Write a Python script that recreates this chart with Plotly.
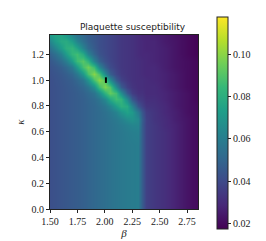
import plotly.graph_objects as go

beta = [1.50, 1.55, 1.60, 1.65, 1.70, 1.75, 1.80, 1.85, 1.90, 1.95, 2.00, 2.05,
        2.10, 2.15, 2.20, 2.25, 2.30, 2.34, 2.38, 2.45, 2.55, 2.65, 2.75, 2.85]
kappa = [0.0, 0.1, 0.2, 0.3, 0.4, 0.5, 0.6, 0.65, 0.7, 0.75, 0.8, 0.85, 0.9, 0.95,
         1.0, 1.05, 1.1, 1.15, 1.2, 1.25, 1.3, 1.35]

row_low = [.042, .043, .044, .045, .046, .047, .048, .0495, .051, .0525, .054, .0555, .057, .058, .059, .0595, .060, .047, .037, .034, .031, .027, .023, .020]
row_060 = [.042, .043, .044, .045, .046, .047, .048, .0495, .051, .0525, .054, .0555, .057, .058, .0596, .0607, .0614, .047, .037, .034, .031, .027, .023, .020]
row_065 = [.042, .043, .044, .045, .046, .047, .048, .0495, .051, .0525, .054, .0555, .0573, .059, .0614, .0634, .0634, .047, .037, .034, .030, .027, .023, .020]
row_070 = [.042, .043, .044, .045, .046, .047, .048, .0495, .051, .0525, .054, .0561, .0585, .0618, .0664, .0686, .0649, .048, .037, .033, .030, .026, .023, .020]
row_075 = [.042, .043, .044, .045, .046, .047, .048, .0495, .051, .0525, .0548, .0578, .0625, .0694, .0749, .0716, .0587, .045, .036, .033, .029, .026, .022, .020]
row_080 = [.042, .043, .044, .045, .046, .047, .048, .0495, .051, .0535, .0573, .0635, .0731, .0808, .0782, .0626, .0443, .038, .033, .032, .029, .025, .022, .020]
row_085 = [.042, .043, .044, .045, .046, .047, .048, .050, .0523, .0567, .0651, .0777, .0867, .0832, .065, .0454, .0355, .034, .031, .031, .028, .025, .022, .019]
row_090 = [.042, .043, .044, .045, .046, .0472, .0489, .0515, .056, .0661, .0825, .0936, .087, .0666, .0462, .0362, .032, .032, .030, .030, .028, .025, .022, .019]
row_095 = [.042, .043, .044, .0452, .0465, .0482, .051, .0565, .0671, .0858, .0982, .0908, .0661, .0466, .037, .0331, .031, .031, .030, .030, .027, .024, .021, .019]
row_100 = [.042, .0433, .0446, .0459, .0477, .0509, .0569, .0694, .0881, .100, .091, .0668, .0469, .0378, .0339, .032, .031, .031, .030, .029, .027, .024, .021, .019]
row_105 = [.0426, .0439, .0455, .0477, .051, .0581, .071, .0885, .100, .0892, .0659, .0479, .0391, .035, .033, .032, .031, .030, .029, .029, .027, .024, .021, .019]
row_110 = [.0434, .0453, .0478, .0515, .0588, .0719, .0879, .096, .0857, .0642, .0487, .0407, .0368, .034, .033, .032, .031, .030, .029, .029, .026, .023, .021, .019]
row_115 = [.0452, .0483, .053, .0606, .0726, .0862, .0913, .0822, .0623, .0492, .0424, .0387, .036, .034, .033, .032, .031, .030, .029, .028, .026, .023, .021, .019]
row_120 = [.049, .0541, .0619, .0725, .0834, .0869, .0783, .0623, .0504, .0438, .0404, .038, .036, .034, .033, .032, .030, .029, .029, .028, .026, .023, .020, .018]
row_125 = [.0556, .0632, .0723, .0801, .0828, .0752, .0626, .052, .0464, .0422, .040, .038, .036, .034, .033, .032, .030, .029, .028, .028, .026, .023, .020, .018]
row_130 = [.0642, .0723, .0777, .0787, .0727, .0624, .0542, .0484, .045, .042, .040, .038, .036, .034, .033, .032, .030, .029, .028, .028, .025, .023, .020, .018]
row_135 = [.0718, .0758, .0757, .0714, .0631, .0557, .0512, .047, .045, .042, .040, .038, .036, .034, .033, .032, .030, .028, .028, .027, .025, .022, .020, .018]

chi = [row_low, row_low, row_low, row_low, row_low, row_low, row_060,
       row_065, row_070, row_075, row_080, row_085, row_090, row_095,
       row_100, row_105, row_110, row_115, row_120, row_125, row_130, row_135]

marker_beta = [2.01]
marker_kappa = [1.0]

cbar_ticks = [0.02, 0.04, 0.06, 0.08, 0.10]
x_ticks = [1.50, 1.75, 2.00, 2.25, 2.50, 2.75]
y_ticks = [0.0, 0.2, 0.4, 0.6, 0.8, 1.0, 1.2]

serif = "Liberation Serif"

fig = go.Figure()
fig.add_trace(go.Heatmap(
    x=beta, y=kappa, z=chi, colorscale="Viridis", zmin=0.0175, zmax=0.118,
    zsmooth="best",
    colorbar=dict(
        x=1.064, xanchor="left", y=0.497, yanchor="middle",
        lenmode="pixels", len=232, thickness=11, thicknessmode="pixels",
        outlinecolor="#222", outlinewidth=1,
        tickvals=cbar_ticks, ticktext=[f"{v:.2f}" for v in cbar_ticks],
        ticks="outside", ticklen=3, tickcolor="#222",
        tickfont=dict(family=serif, size=10, color="#222"),
    ),
))
fig.add_trace(go.Scatter(
    x=marker_beta, y=marker_kappa, mode="markers",
    marker=dict(symbol="line-ns", size=4, line=dict(color="black", width=2)),
    showlegend=False, hoverinfo="skip",
))

axis_common = dict(
    showgrid=False, zeroline=False, showline=True, linecolor="#222", linewidth=1,
    mirror=True, ticks="outside", ticklen=3, tickcolor="#222",
    tickfont=dict(family=serif, size=10, color="#222"),
)
fig.update_layout(
    width=266, height=241,
    margin=dict(l=31, r=48, t=27, b=29),
    paper_bgcolor="white", plot_bgcolor="white",
    title=dict(text="Plaquette susceptibility", x=(31 + 93.5) / 266, xanchor="center",
               y=1 - 19 / 241, yanchor="middle",
               font=dict(family="DejaVu Sans", size=9, color="#222")),
    xaxis=dict(range=[1.5, 2.85], tickvals=x_ticks, ticktext=[f"{v:.2f}" for v in x_ticks],
               title=dict(text="<i>β</i>", font=dict(family=serif, size=11, color="#222"), standoff=2),
               **axis_common),
    yaxis=dict(range=[0, 1.35], tickvals=y_ticks, ticktext=[f"{v:.1f}" for v in y_ticks],
               title=dict(text="<i>κ</i>", font=dict(family=serif, size=11, color="#222"), standoff=4),
               **axis_common),
    showlegend=False,
)

fig.write_html("out.html")
